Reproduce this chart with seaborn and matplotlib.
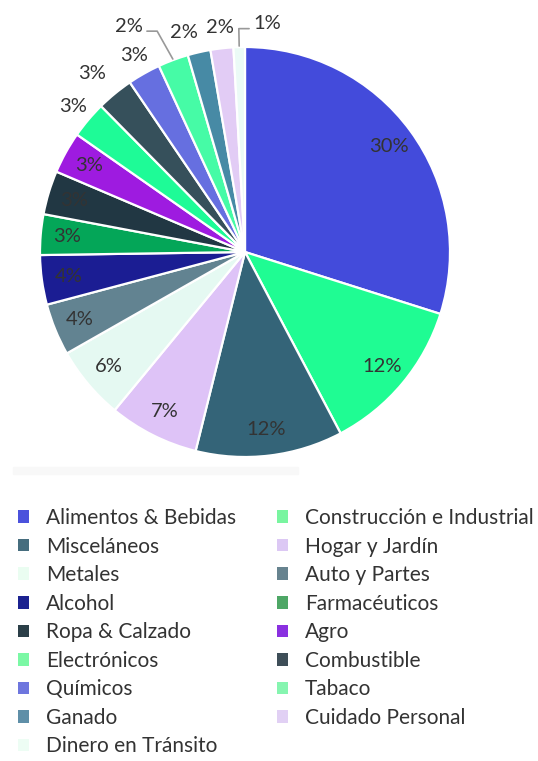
import numpy as np
import matplotlib.pyplot as plt
import seaborn as sns
from matplotlib.patches import Patch, Rectangle

# share of each sector (%), clockwise from 12 o'clock
categories = ['Alimentos & Bebidas', 'Construcción e Industrial', 'Misceláneos',
              'Hogar y Jardín', 'Metales', 'Auto y Partes', 'Alcohol',
              'Farmacéuticos', 'Ropa & Calzado', 'Agro', 'Electrónicos',
              'Combustible', 'Químicos', 'Tabaco', 'Ganado', 'Cuidado Personal',
              'Dinero en Tránsito']
shares = [29.9, 12.4, 11.6, 7.1, 5.8, 4.1, 3.9, 3.2, 3.45, 3.3, 2.9, 2.9,
          2.6, 2.4, 1.8, 1.8, 0.9]

slice_colors = ['#434BDB', '#1FFC93', '#346478', '#DEC3F7', '#E5F9F2', '#628391',
                '#1B1D93', '#04A658', '#213743', '#9E1BE0', '#1EFB97', '#36505B',
                '#666FE0', '#46FBA6', '#478AA5', '#E2CCF5', '#EBFAF6']
legend_colors = ['#4B52DC', '#79F5A0', '#466D7E', '#DCC8F4', '#EAFDF1', '#67838F',
                 '#1B2290', '#4EA766', '#2B3F48', '#8A30E0', '#7BF8A5', '#3E4E58',
                 '#6E76DE', '#86F5B0', '#5F8FA8', '#E1D0F4', '#EDFDF4']

sns.set_theme(style='white')
plt.rcParams['font.family'] = ['Lato', 'DejaVu Sans']
text_color = '#333333'

W, H = 538, 761
fig = plt.figure(figsize=(W / 100, H / 100), dpi=100)

# pie centre and radius in pixels
cx, cy, R = 245, 252, 205
lim = 1.25
half = lim * R
ax = fig.add_axes([(cx - half) / W, (H - cy - half) / H, 2 * half / W, 2 * half / H])
ax.set_xlim(-lim, lim)
ax.set_ylim(-lim, lim)
ax.set_aspect('equal')
ax.axis('off')

wedges, _ = ax.pie(shares, colors=sns.color_palette(slice_colors), startangle=90,
                   counterclock=False, radius=1,
                   wedgeprops=dict(edgecolor='white', linewidth=1.6))

# outside labels moved to avoid overlap: (dx, dy, connector side)
nudges = {'Combustible': (-0.05, 0.02, None),
          'Tabaco': (-0.183, 0.072, 'right'),
          'Ganado': (-0.05, 0.0, None),
          'Dinero en Tránsito': (0.141, 0.015, 'left')}

for w, name, val in zip(wedges, categories, shares):
    mid = np.deg2rad((w.theta1 + w.theta2) / 2)
    lbl = f'{round(val):.0f}%'
    if val >= 3.0:
        r = 0.87
        ax.text(r * np.cos(mid), r * np.sin(mid), lbl, ha='center', va='center',
                fontsize=14.5, color=text_color)
        continue
    r = 1.1
    lx, ly = r * np.cos(mid), r * np.sin(mid)
    side = None
    if name in nudges:
        dx, dy, side = nudges[name]
        lx, ly = lx + dx, ly + dy
    ax.text(lx, ly, lbl, ha='center', va='center', fontsize=14.5, color=text_color)
    if side:
        sgn = 1 if side == 'right' else -1
        end_x = lx + sgn * (0.07 + 0.02)
        elbow_x = end_x + sgn * 0.05
        line_y = ly - 0.025
        sx, sy = 1.005 * np.cos(mid), 1.005 * np.sin(mid)
        ax.plot([sx, elbow_x, end_x], [sy, line_y, line_y], color='#999999', lw=1.2)

# faint band under the plot area
fig.patches.append(Rectangle((13 / W, 1 - 474 / H), 285 / W, 7 / H,
                             transform=fig.transFigure, color='#F8F8F8', zorder=0))

# legend, filled row by row
order = list(range(0, len(categories), 2)) + list(range(1, len(categories), 2))
handles = [Patch(facecolor=legend_colors[i], edgecolor='none', label=categories[i])
           for i in order]
leg = fig.legend(handles=handles, ncol=2, loc='upper left',
                 bbox_to_anchor=(18 / W, 1 - 508 / H), frameon=False,
                 fontsize=15, handlelength=0.55, handleheight=0.55,
                 handletextpad=0.8, columnspacing=1.95, labelspacing=0.41,
                 borderaxespad=0, borderpad=0)
for t in leg.get_texts():
    t.set_color(text_color)

fig.savefig('out.png', dpi=100, facecolor='white')
